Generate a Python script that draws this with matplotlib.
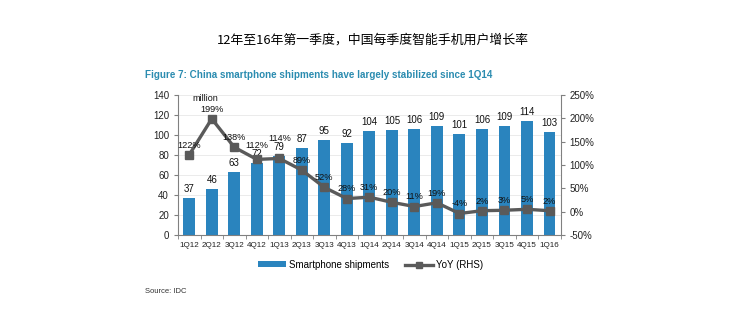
import numpy as np
import matplotlib
matplotlib.use('Agg')
from matplotlib import pyplot as plt

plt.rcParams['font.family'] = ['Liberation Sans', 'Noto Sans CJK SC', 'DejaVu Sans']

# data
quarters  = ['1Q12', '2Q12', '3Q12', '4Q12', '1Q13', '2Q13', '3Q13', '4Q13', '1Q14',
             '2Q14', '3Q14', '4Q14', '1Q15', '2Q15', '3Q15', '4Q15', '1Q16']
shipments = [37, 46, 63, 72, 79, 87, 95, 92, 104, 105, 106, 109, 101, 106, 109, 114, 103]
yoy       = [122, 199, 138, 112, 114, 89, 52, 28, 31, 20, 11, 19, -4, 2, 3, 5, 2]

bar_c  = '#2a84be'
line_c = '#5a5a5a'
spine_c = '#808080'

# extra lift (in % units) for labels that would sit on top of bar labels
label_lift = {3: 10, 4: 23}

fig = plt.figure(figsize=(7.34, 3.21), dpi=100)
fig.text(0.508, 0.875, '12年至16年第一季度，中国每季度智能手机用户增长率',
         ha='center', va='center', fontsize=9.3, family=['Noto Sans CJK SC', 'DejaVu Sans'])
fig.text(0.197, 0.765, 'Figure 7: China smartphone shipments have largely stabilized since 1Q14',
         ha='left', va='center', fontsize=7.1, color='#2b8cb0', fontweight='bold')
fig.text(0.197, 0.093, 'Source: IDC', ha='left', va='center', fontsize=5.5, color='#333333')

ax = fig.add_axes([0.2425, 0.268, 0.5215, 0.436])
x = np.arange(len(quarters))
ax.bar(x, shipments, width=0.53, color=bar_c, zorder=2, label='Smartphone shipments')
ax.set_xlim(-0.5, len(quarters) - 0.5)
ax.set_ylim(0, 140)
ax.set_yticks(np.arange(0, 141, 20))
ax.yaxis.grid(True, color='#e8e8e8', lw=0.6, zorder=0)
ax.set_axisbelow(True)
ax.set_xticks(x)
ax.set_xticklabels(quarters, fontsize=5.9, color='#222222')
ax.set_xticks(np.arange(-0.5, len(quarters), 1), minor=True)
ax.tick_params(axis='x', which='major', length=0, pad=5)
ax.tick_params(axis='x', which='minor', length=3, color=spine_c)
ax.tick_params(axis='y', labelsize=7, length=3, color=spine_c, colors='#222222')
for s in ['top', 'right']:
    ax.spines[s].set_visible(False)
for s in ['left', 'bottom']:
    ax.spines[s].set_color(spine_c)
for xi, v in zip(x, shipments):
    ax.text(xi, v + 4, f'{v}', ha='center', va='bottom', fontsize=7, color='#111111')
ax.text(0.15, 137, 'million', ha='left', va='center', fontsize=6.5, color='#111111')

ax2 = ax.twinx()
ax2.plot(x, yoy, color=line_c, lw=2.4, marker='s', markersize=5.5, zorder=3, label='YoY (RHS)')
ax2.set_ylim(-50, 250)
ax2.set_yticks(np.arange(-50, 251, 50))
ax2.set_yticklabels([f'{t}%' for t in range(-50, 251, 50)])
ax2.tick_params(axis='y', labelsize=7, length=3, color=spine_c, colors='#222222')
for s in ['top', 'left', 'bottom']:
    ax2.spines[s].set_visible(False)
ax2.spines['right'].set_color(spine_c)
for i, (xi, v) in enumerate(zip(x, yoy)):
    ax2.text(xi, v + 11 + label_lift.get(i, 0), f'{v}%', ha='center', va='bottom',
             fontsize=6.6, color='#111111')

h1, l1 = ax.get_legend_handles_labels()
h2, l2 = ax2.get_legend_handles_labels()
fig.legend(h1 + h2, l1 + l2, loc='center', bbox_to_anchor=(0.505, 0.175), ncol=2,
           frameon=False, fontsize=7, handlelength=2.9, handleheight=0.6,
           handletextpad=0.3, columnspacing=1.6, markerscale=0.75)

plt.savefig('out.png', dpi=100)
